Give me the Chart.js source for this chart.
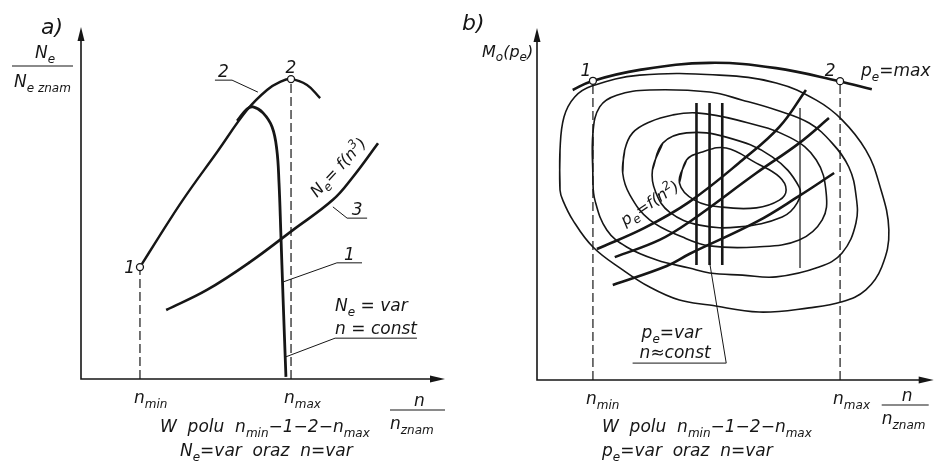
<!DOCTYPE html>
<html>
<head>
<meta charset="utf-8">
<script src="https://cdn.jsdelivr.net/npm/chart.js@4.4.1/dist/chart.umd.min.js"></script>
<style>
  html, body { margin: 0; padding: 0; background: #fff; }
  #wrap { position: relative; width: 939px; height: 468px; }
  canvas { position: absolute; top: 0; }
  #chartA { left: 0; }
  #chartB { left: 455px; }
</style>
</head>
<body>
<div id="wrap">
  <canvas id="chartA" width="455" height="468"></canvas>
  <canvas id="chartB" width="484" height="468"></canvas>
</div>
<script>
// a) N_e/N_e znam against n/n_znam, both axes in % of axis length
const nMinA = 16.2;
const nMaxA = 57.7;
const point1A = [16.2, 31.8];
const point2A = [57.7, 85.2];
// curve 2 - envelope through points 1 and 2
const curve2X = [16.2, 20.9, 28.0, 37.4, 45.6, 51.1, 54.7, 57.7, 62.1, 65.7];
const curve2Y = [31.8, 39.5, 50.9, 64.5, 76.4, 82.1, 84.4, 85.2, 83.5, 79.8];
// curve 1 - N_e = var at n = const
const curve1X = [42.9, 45.6, 47.3, 50.0, 52.5, 53.8, 54.4, 54.9, 55.5, 56.3];
const curve1Y = [73.3, 76.7, 77.3, 75.6, 71.6, 65.1, 55.7, 41.5, 23.3, 0.6];
// curve 3 - N_e = f(n^3)
const curve3X = [23.4, 34.6, 46.4, 58.2, 69.2, 74.7, 81.6];
const curve3Y = [19.6, 25.3, 33.2, 42.3, 50.9, 57.4, 67.0];
// leader lines of the callouts
const lead2AX = [36.8, 41.5, 48.6], lead2AY = [84.9, 84.9, 81.5];
const lead3AX = [78.6, 73.1, 69.2], lead3AY = [45.7, 45.7, 48.9];
const lead1AX = [77.2, 70.3, 55.6], lead1AY = [33.0, 33.0, 27.6];
const leadConstAX = [92.3, 69.8, 56.3], leadConstAY = [11.6, 11.6, 6.3];

// b) M_o(p_e) against n/n_znam
const nMinB = 14.1;
const nMaxB = 76.4;
const point1B = [14.1, 85.0];
const point2B = [76.4, 84.9];
const maxX = [9.0, 13.8, 25.9, 43.5, 60.3, 76.1, 84.4];
const maxY = [82.4, 84.9, 88.1, 90.1, 88.6, 84.9, 82.6];
// closed contours of the engine map, outer to inner
const ring1X = [5.8, 5.8, 6.8, 9.5, 13.8, 25.9, 46.0, 60.3, 70.4, 76.9, 82.9, 86.2, 88.7, 86.9, 82.9, 76.9, 68.6, 56.0, 43.5, 35.9, 28.4, 21.6, 14.1, 9.0, 6.5];
const ring1Y = [54.0, 65.3, 74.7, 80.4, 83.5, 86.6, 86.6, 84.4, 79.5, 73.9, 65.3, 56.0, 42.6, 32.1, 25.6, 22.2, 20.5, 19.3, 21.3, 22.7, 26.4, 31.3, 37.8, 45.5, 51.1];
const ring2X = [14.1, 14.1, 15.8, 20.1, 28.4, 43.5, 51.8, 60.3, 68.6, 74.4, 78.6, 80.4, 80.4, 76.9, 71.1, 60.3, 51.8, 43.5, 38.4, 30.2, 22.6, 17.6, 14.6];
const ring2Y = [56.8, 70.2, 77.6, 80.9, 82.4, 81.8, 79.5, 76.7, 73.0, 67.3, 60.5, 52.6, 44.6, 36.1, 32.1, 29.3, 29.8, 30.4, 31.8, 34.1, 37.8, 42.6, 51.1];
const ring3X = [21.6, 22.1, 24.1, 28.4, 34.2, 40.2, 50.3, 63.6, 70.4, 72.9, 71.9, 66.1, 55.3, 43.5, 36.7, 28.4, 23.4];
const ring3Y = [58.8, 65.3, 70.2, 73.3, 75.3, 75.9, 73.9, 69.0, 62.5, 53.1, 45.5, 39.8, 37.8, 38.1, 40.6, 45.5, 52.6];
const ring4X = [29.1, 31.7, 37.7, 47.7, 59.3, 66.1, 65.6, 61.8, 51.0, 41.0, 33.4, 29.9];
const ring4Y = [59.7, 67.3, 70.2, 69.0, 63.4, 54.8, 50.3, 46.3, 43.5, 44.0, 47.7, 53.4];
const ring5X = [35.9, 37.7, 41.7, 47.7, 55.3, 61.1, 62.8, 61.1, 55.3, 46.7, 39.7];
const ring5Y = [56.0, 62.5, 64.8, 65.9, 61.6, 57.7, 54.0, 51.1, 48.9, 49.1, 51.1];
// p_e = f(n^2) lines
const propAX = [15.1, 27.1, 38.4, 51.8, 61.1, 67.8], propAY = [37.2, 43.2, 50.6, 62.5, 71.9, 82.4];
const propBX = [19.6, 30.9, 38.4, 55.3, 66.1, 73.6], propBY = [34.9, 39.8, 44.9, 58.8, 67.3, 74.4];
const propCX = [19.1, 32.7, 38.4, 55.3, 66.1, 74.9], propCY = [27.0, 32.4, 35.8, 44.9, 52.3, 58.8];
// n = const lines
const constN = [40.2, 43.5, 46.7];
const constFrom = 32.7, constTo = 78.7;
const thinN = 66.3, thinFrom = 31.8, thinTo = 77.3;
const leadVarX = [24.1, 47.7, 43.5], leadVarY = [4.8, 4.8, 33.5];

const INK = '#161616';
const FACE = '"DejaVu Sans", sans-serif';
const fontOf = size => 'italic ' + size + 'px ' + FACE;

function line(xs, ys, width, extra) {
  return Object.assign({
    data: xs.map((x, i) => ({ x: x, y: ys[i] })),
    showLine: true, borderColor: INK, borderWidth: width,
    pointRadius: 0, tension: 0.4, fill: false
  }, extra || {});
}
function ring(xs, ys, width) {
  return line(xs.concat(xs[0], xs[1]), ys.concat(ys[0], ys[1]), width);
}
function straight(xs, ys, width, extra) {
  return line(xs, ys, width, Object.assign({ tension: 0 }, extra || {}));
}
function marks(pts) {
  return {
    data: pts.map(p => ({ x: p[0], y: p[1] })),
    showLine: false, pointRadius: 3.5, pointBackgroundColor: '#fff',
    pointBorderColor: INK, pointBorderWidth: 1.3
  };
}

// text with subscript / superscript runs: [[text, mode], ...]
function runsWidth(ctx, parts, size) {
  let w = 0;
  parts.forEach(([t, m]) => {
    ctx.font = fontOf(m ? Math.round(size * 0.72) : size);
    w += ctx.measureText(t).width;
  });
  return w;
}
function runs(ctx, x, y, parts, size, align) {
  const w = runsWidth(ctx, parts, size);
  let cx = align === 'center' ? x - w / 2 : align === 'right' ? x - w : x;
  ctx.textAlign = 'left';
  ctx.textBaseline = 'alphabetic';
  ctx.fillStyle = INK;
  parts.forEach(([t, m]) => {
    const s = m ? Math.round(size * 0.72) : size;
    ctx.font = fontOf(s);
    const dy = m === 'sub' ? size * 0.28 : m === 'sup' ? -size * 0.42 : 0;
    ctx.fillText(t, cx, y + dy);
    cx += ctx.measureText(t).width;
  });
}
function rotatedRuns(ctx, x, y, parts, size, angle) {
  ctx.save();
  ctx.translate(x, y);
  ctx.rotate(angle * Math.PI / 180);
  runs(ctx, 0, size * 0.35, parts, size, 'center');
  ctx.restore();
}
function hline(ctx, x1, x2, y) {
  ctx.beginPath(); ctx.moveTo(x1, y); ctx.lineTo(x2, y); ctx.stroke();
}

const axesPlugin = {
  id: 'arrowAxes',
  beforeDatasetsDraw(chart) {
    const { ctx, chartArea: a } = chart;
    ctx.save();
    ctx.strokeStyle = INK; ctx.fillStyle = INK; ctx.lineWidth = 1.6;
    ctx.beginPath();
    ctx.moveTo(a.left, a.top + 10); ctx.lineTo(a.left, a.bottom); ctx.lineTo(a.right - 10, a.bottom);
    ctx.stroke();
    ctx.beginPath();
    ctx.moveTo(a.left, a.top); ctx.lineTo(a.left - 3.5, a.top + 14); ctx.lineTo(a.left + 3.5, a.top + 14);
    ctx.closePath(); ctx.fill();
    ctx.beginPath();
    ctx.moveTo(a.right, a.bottom); ctx.lineTo(a.right - 15, a.bottom - 3.5); ctx.lineTo(a.right - 15, a.bottom + 3.5);
    ctx.closePath(); ctx.fill();
    ctx.restore();
  }
};

function fractionLabel(ctx, x1, x2, yLine, size) {
  ctx.save();
  ctx.strokeStyle = INK; ctx.lineWidth = 1.1;
  runs(ctx, (x1 + x2) / 2 + 2, yLine - 4, [['n', null]], size, 'center');
  hline(ctx, x1, x2, yLine);
  runs(ctx, x1, yLine + 19, [['n', null], ['znam', 'sub']], size, 'left');
  ctx.restore();
}

const labelsA = {
  id: 'labelsA',
  afterDraw(chart) {
    const { ctx, chartArea: a } = chart;
    const px = v => chart.scales.x.getPixelForValue(v);
    const py = v => chart.scales.y.getPixelForValue(v);
    const S = 17;
    ctx.save();
    ctx.strokeStyle = INK; ctx.lineWidth = 1.1;
    runs(ctx, a.left - 40, 34, [['a)', null]], 22, 'left');
    // y axis title as a fraction
    runs(ctx, a.left - 36, 58, [['N', null], ['e', 'sub']], S, 'center');
    hline(ctx, a.left - 69, a.left - 8, 66);
    runs(ctx, a.left - 67, 87, [['N', null], ['e znam', 'sub']], S, 'left');
    // point numbers
    runs(ctx, px(point2A[0]), py(point2A[1]) - 6, [['2', null]], S, 'center');
    runs(ctx, px(point1A[0]) - 5, py(point1A[1]) + 6, [['1', null]], S, 'right');
    // callouts
    runs(ctx, (px(lead2AX[0]) + px(lead2AX[1])) / 2, py(lead2AY[0]) - 3, [['2', null]], S, 'center');
    runs(ctx, (px(lead3AX[0]) + px(lead3AX[1])) / 2, py(lead3AY[0]) - 3, [['3', null]], S, 'center');
    runs(ctx, (px(lead1AX[0]) + px(lead1AX[1])) / 2, py(lead1AY[0]) - 3, [['1', null]], S, 'center');
    runs(ctx, px(leadConstAX[1]), py(leadConstAY[1]) - 27, [['N', null], ['e', 'sub'], [' = var', null]], S, 'left');
    runs(ctx, px(leadConstAX[1]), py(leadConstAY[1]) - 4, [['n = const', null]], S, 'left');
    rotatedRuns(ctx, px(70.6), py(60.2), [['N', null], ['e', 'sub'], ['= f(n', null], ['3', 'sup'], [')', null]], 16, -47);
    // x axis ticks
    runs(ctx, px(nMinA) - 6, a.bottom + 24, [['n', null], ['min', 'sub']], S, 'left');
    runs(ctx, px(nMaxA) - 7, a.bottom + 24, [['n', null], ['max', 'sub']], S, 'left');
    fractionLabel(ctx, a.right - 55, a.right, a.bottom + 31, S);
    // caption
    runs(ctx, 160, 432, [['W  polu  n', null], ['min', 'sub'], ['\u22121\u22122\u2212n', null], ['max', 'sub']], S, 'left');
    runs(ctx, 180, 456, [['N', null], ['e', 'sub'], ['=var  oraz  n=var', null]], S, 'left');
    ctx.restore();
  }
};

const labelsB = {
  id: 'labelsB',
  afterDraw(chart) {
    const { ctx, chartArea: a } = chart;
    const px = v => chart.scales.x.getPixelForValue(v);
    const py = v => chart.scales.y.getPixelForValue(v);
    const S = 17;
    ctx.save();
    ctx.strokeStyle = INK; ctx.lineWidth = 1.1;
    runs(ctx, a.left - 75, 30, [['b)', null]], 22, 'left');
    runs(ctx, a.left - 55, 57, [['M', null], ['o', 'sub'], ['(p', null], ['e', 'sub'], [')', null]], 16, 'left');
    runs(ctx, px(point1B[0]) - 7, py(point1B[1]) - 5, [['1', null]], S, 'center');
    runs(ctx, px(point2B[0]) - 10, py(point2B[1]) - 5, [['2', null]], S, 'center');
    runs(ctx, px(point2B[0]) + 21, py(point2B[1]) - 5, [['p', null], ['e', 'sub'], ['=max', null]], S, 'left');
    rotatedRuns(ctx, px(28.4), py(50.3), [['p', null], ['e', 'sub'], ['=f(n', null], ['2', 'sup'], [')', null]], 16, -34);
    runs(ctx, px(leadVarX[0]) + 9, py(leadVarY[0]) - 25, [['p', null], ['e', 'sub'], ['=var', null]], S, 'left');
    runs(ctx, px(leadVarX[0]) + 7, py(leadVarY[0]) - 5, [['n\u2248const', null]], S, 'left');
    runs(ctx, px(nMinB) - 7, a.bottom + 24, [['n', null], ['min', 'sub']], S, 'left');
    runs(ctx, px(nMaxB) - 7, a.bottom + 24, [['n', null], ['max', 'sub']], S, 'left');
    fractionLabel(ctx, a.right - 52, a.right - 5, a.bottom + 25, S);
    runs(ctx, 602 - 455, 432, [['W  polu  n', null], ['min', 'sub'], ['\u22121\u22122\u2212n', null], ['max', 'sub']], S, 'left');
    runs(ctx, 602 - 455, 456, [['p', null], ['e', 'sub'], ['=var  oraz  n=var', null]], S, 'left');
    ctx.restore();
  }
};

function baseOptions(padding) {
  return {
    responsive: false, animation: false, devicePixelRatio: 1, events: [],
    layout: { padding: padding },
    plugins: { legend: { display: false }, tooltip: { enabled: false } },
    scales: {
      x: { type: 'linear', min: 0, max: 100, display: false },
      y: { type: 'linear', min: 0, max: 100, display: false }
    }
  };
}

const dash = { borderDash: [9, 4] };

new Chart(document.getElementById('chartA'), {
  type: 'scatter',
  data: {
    datasets: [
      marks([point1A, point2A]),
      line(curve1X, curve1Y, 2.8),
      line(curve2X, curve2Y, 2.4),
      line(curve3X, curve3Y, 2.6),
      straight([nMinA, nMinA], [0, point1A[1]], 1.2, dash),
      straight([nMaxA, nMaxA], [0, point2A[1]], 1.2, dash),
      straight(lead2AX, lead2AY, 1.0),
      straight(lead3AX, lead3AY, 1.0),
      straight(lead1AX, lead1AY, 1.0),
      straight(leadConstAX, leadConstAY, 1.0)
    ]
  },
  options: baseOptions({ left: 81, right: 10, top: 27, bottom: 89 }),
  plugins: [axesPlugin, labelsA]
});

const constLines = constN.map(n => straight([n, n], [constFrom, constTo], 2.6));

new Chart(document.getElementById('chartB'), {
  type: 'scatter',
  data: {
    datasets: [
      marks([point1B, point2B]),
      line(maxX, maxY, 2.6),
      ...constLines,
      line(propAX, propAY, 2.6),
      line(propBX, propBY, 2.6),
      line(propCX, propCY, 2.6),
      straight([thinN, thinN], [thinFrom, thinTo], 1.2),
      ring(ring1X, ring1Y, 1.6),
      ring(ring2X, ring2Y, 1.6),
      ring(ring3X, ring3Y, 1.6),
      ring(ring4X, ring4Y, 1.6),
      ring(ring5X, ring5Y, 1.6),
      straight([nMinB, nMinB], [0, point1B[1]], 1.2, dash),
      straight([nMaxB, nMaxB], [0, point2B[1]], 1.2, dash),
      straight(leadVarX, leadVarY, 1.0)
    ]
  },
  options: baseOptions({ left: 82, right: 4, top: 28, bottom: 88 }),
  plugins: [axesPlugin, labelsB]
});
</script>
</body>
</html>
